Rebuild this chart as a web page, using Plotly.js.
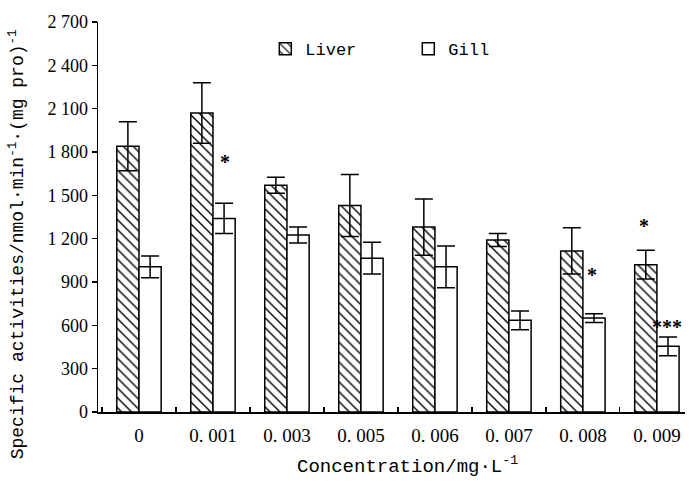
<!DOCTYPE html>
<html>
<head>
<meta charset="utf-8">
<script src="https://cdn.plot.ly/plotly-3.0.1.min.js"></script>
<style>html,body{margin:0;padding:0;background:#fff;}#chart{width:689px;height:483px;}</style>
</head>
<body>
<div id="chart"></div>
<script>
const categories = ["0", "0. 001", "0. 003", "0. 005", "0. 006", "0. 007", "0. 008", "0. 009"];
const liverValues = [1840, 2070, 1570, 1430, 1280, 1190, 1115, 1020];
const liverErrors = [170, 210, 55, 215, 195, 45, 160, 100];
const gillValues = [1005, 1340, 1225, 1065, 1005, 635, 650, 455];
const gillErrors = [75, 105, 55, 110, 145, 65, 30, 65];
const yTickValues = [0, 300, 600, 900, 1200, 1500, 1800, 2100, 2400, 2700];
const yTickLabels = ["0", "300", "600", "900", "1 200", "1 500", "1 800", "2 100", "2 400", "2 700"];
const xTitle = "Concentration/mg·L<sup>-1</sup>";
const yTitle = "Specific activities/nmol·min<sup>-1</sup>·(mg pro)<sup>-1</sup>";
// significance marks: [category index offset, value, text]
const sigMarks = [
  {x: 1.16, y: 1730, text: "*"},
  {x: 6.12, y: 950, text: "*"},
  {x: 6.82, y: 1290, text: "*"},
  {x: 7.14, y: 590, text: "***"}
];

const mono = "Liberation Mono, DejaVu Sans Mono, monospace";
const serif = "Liberation Serif, DejaVu Serif, serif";

const liver = {
  type: "bar", name: "Liver", x: categories, y: liverValues,
  marker: {color: "#fff", line: {color: "#000", width: 1.5},
    pattern: {shape: "\\", fgcolor: "#000", bgcolor: "#fff", size: 7, solidity: 0.2}},
  error_y: {type: "data", array: liverErrors, visible: true, color: "#000", thickness: 1.5, width: 9}
};
const gill = {
  type: "bar", name: "Gill", x: categories, y: gillValues,
  marker: {color: "#fff", line: {color: "#000", width: 1.5}},
  error_y: {type: "data", array: gillErrors, visible: true, color: "#000", thickness: 1.5, width: 9}
};

const annotations = sigMarks.map(m => ({x: m.x, y: m.y, xref: "x", yref: "y", text: "<b>" + m.text + "</b>",
    showarrow: false, font: {family: serif, size: 20, color: "#000"}}));
annotations.push({text: xTitle, xref: "paper", yref: "paper", x: 0.528, y: -0.138,
  xanchor: "center", yanchor: "middle", showarrow: false, font: {family: mono, size: 19, color: "#000"}});
annotations.push({text: yTitle, xref: "paper", yref: "paper", x: -0.138, y: 0.43, textangle: -90,
  xanchor: "center", yanchor: "middle", showarrow: false, font: {family: mono, size: 18, color: "#000"}});

const layout = {
  width: 689, height: 483,
  margin: {l: 98, r: 4, t: 22, b: 71},
  paper_bgcolor: "#fff", plot_bgcolor: "#fff",
  barmode: "group", bargap: 0.4, bargroupgap: 0,
  showlegend: true,
  legend: {orientation: "h", x: 0.285, y: 0.93, xanchor: "left", yanchor: "middle",
    entrywidth: 98, entrywidthmode: "pixels",
    font: {family: mono, size: 17, color: "#000"}, bgcolor: "rgba(0,0,0,0)"},
  xaxis: {
    type: "category", range: [-0.554, 7.38],
    showline: true, linecolor: "#000", linewidth: 1.5,
    ticks: "inside", tickson: "boundaries", ticklen: 5, tickcolor: "#000", tickwidth: 1.2,
    ticklabelstandoff: 6,
    tickfont: {family: serif, size: 19, color: "#000"},
    showgrid: false, zeroline: false
  },
  yaxis: {
    range: [0, 2700], tickvals: yTickValues, ticktext: yTickLabels,
    showline: true, linecolor: "#000", linewidth: 1.5,
    ticks: "outside", ticklen: 5, tickcolor: "#000", tickwidth: 1.2,
    tickfont: {family: serif, size: 18, color: "#000"},
    showgrid: false, zeroline: false
  },
  annotations: annotations
};

Plotly.newPlot("chart", [liver, gill], layout, {displayModeBar: false, staticPlot: true});
</script>
</body>
</html>
